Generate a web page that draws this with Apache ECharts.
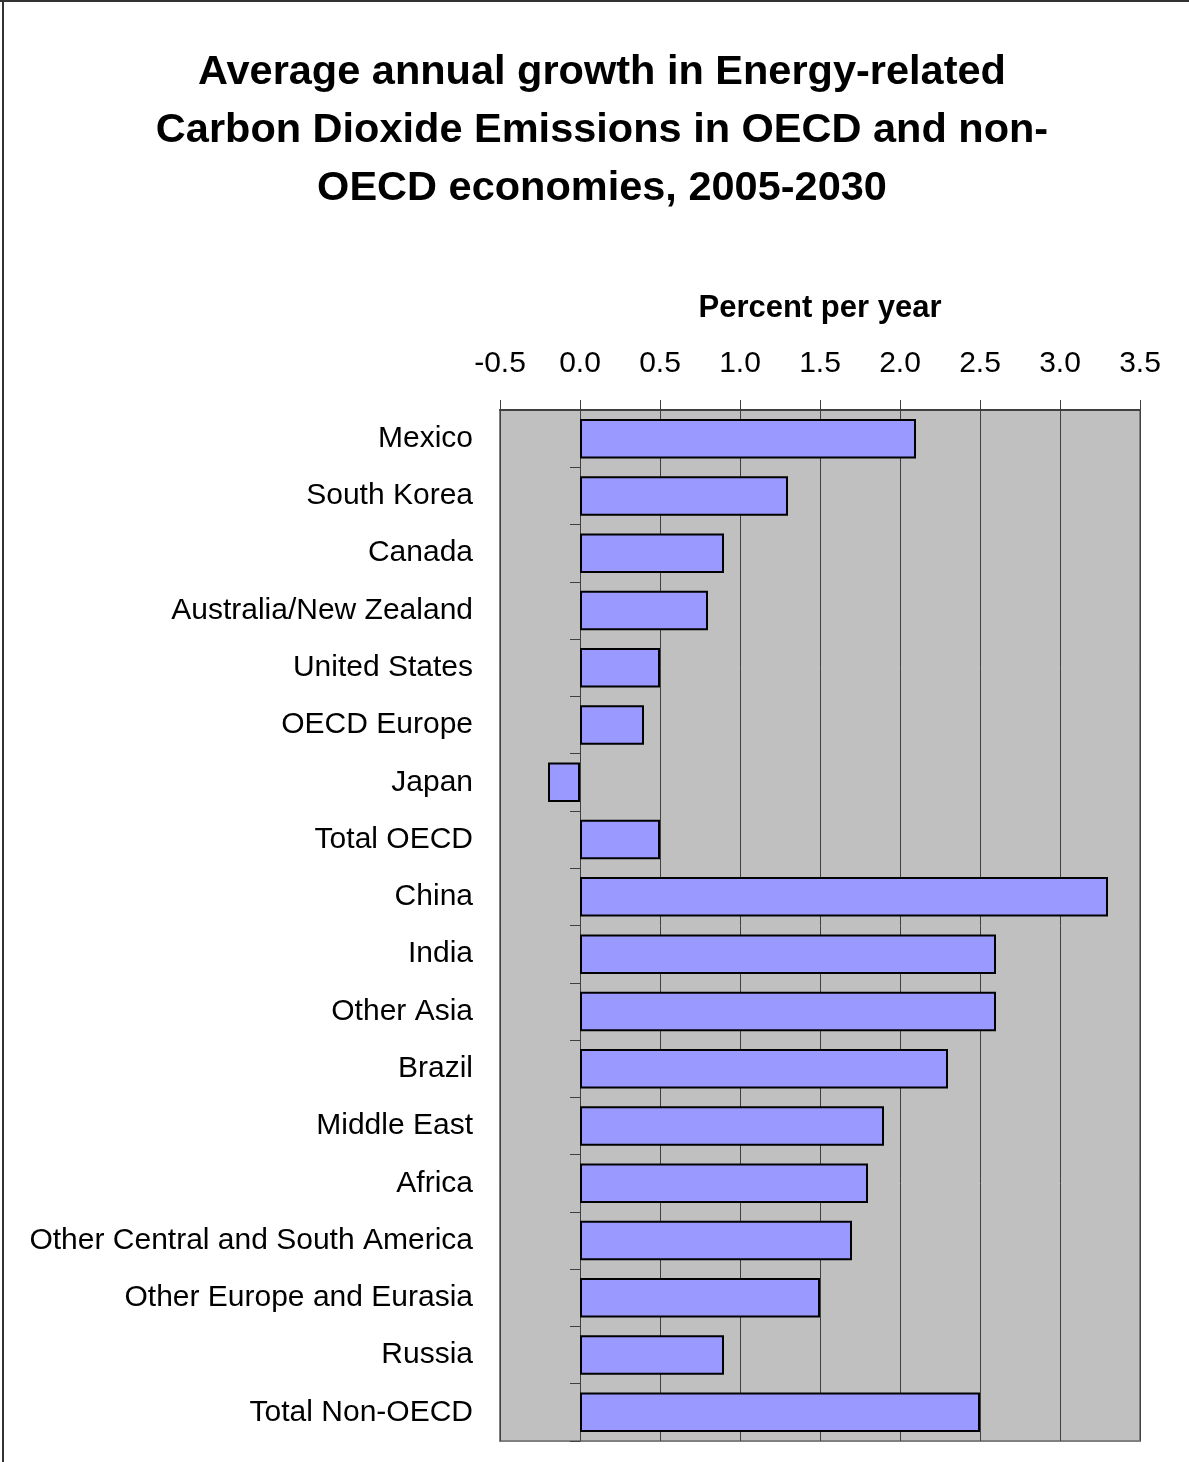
<!DOCTYPE html>
<html>
<head>
<meta charset="utf-8">
<script src="https://cdn.jsdelivr.net/npm/echarts@6/dist/echarts.min.js"></script>
<style>
  html, body { margin: 0; padding: 0; background: #fff; }
  #main { width: 1189px; height: 1462px; }
</style>
</head>
<body>
<div id="main"></div>
<script>
var categories = ['Mexico', 'South Korea', 'Canada', 'Australia/New Zealand', 'United States',
  'OECD Europe', 'Japan', 'Total OECD', 'China', 'India', 'Other Asia', 'Brazil', 'Middle East',
  'Africa', 'Other Central and South America', 'Other Europe and Eurasia', 'Russia', 'Total Non-OECD'];
var growth = [2.1, 1.3, 0.9, 0.8, 0.5, 0.4, -0.2, 0.5, 3.3, 2.6, 2.6, 2.3, 1.9, 1.8, 1.7, 1.5, 0.9, 2.5];

var myChart = echarts.init(document.getElementById('main'));
var font = 'Liberation Sans, Arial, sans-serif';

var option = {
  animation: false,
  textStyle: { fontFamily: font },
  title: {
    text: 'Average annual growth in Energy-related\nCarbon Dioxide Emissions in OECD and non-\nOECD economies, 2005-2030',
    left: 597,
    textAlign: 'center',
    top: 39,
    textStyle: {
      fontFamily: font,
      fontSize: 41.5,
      fontWeight: 'bold',
      lineHeight: 58,
      color: '#000'
    }
  },
  graphic: [
    { type: 'line', shape: { x1: 3, y1: 0, x2: 3, y2: 1462 }, style: { stroke: '#333', lineWidth: 2 } },
    { type: 'line', shape: { x1: 0, y1: 1, x2: 1189, y2: 1 }, style: { stroke: '#333', lineWidth: 2 } }
  ],
  grid: {
    left: 500,
    right: 49,
    top: 410,
    bottom: 21,
    show: true,
    backgroundColor: '#c0c0c0',
    borderColor: '#808080',
    borderWidth: 2
  },
  xAxis: {
    type: 'value',
    position: 'top',
    min: -0.5,
    max: 3.5,
    interval: 0.5,
    name: 'Percent per year',
    nameLocation: 'middle',
    nameGap: 86,
    nameTextStyle: { fontFamily: font, fontSize: 31, fontWeight: 'bold', color: '#000' },
    axisLine: { show: true, lineStyle: { color: '#404040', width: 2 } },
    axisTick: { show: true, inside: false, length: 10, lineStyle: { color: '#404040', width: 1 } },
    axisLabel: {
      fontSize: 30,
      color: '#000',
      margin: 31,
      formatter: function (v) { return v.toFixed(1); }
    },
    splitLine: { show: true, lineStyle: { color: '#404040', width: 1 } }
  },
  yAxis: [
    {
      type: 'category',
      data: categories,
      inverse: true,
      axisLine: { show: false, onZero: false },
      axisTick: { show: false },
      axisLabel: { fontSize: 30, color: '#000', margin: 27, padding: [8, 0, 0, 0] }
    },
    {
      type: 'category',
      data: categories,
      inverse: true,
      position: 'left',
      axisLine: { show: true, onZero: true, lineStyle: { color: '#404040', width: 1 } },
      axisTick: { show: true, length: 10, lineStyle: { color: '#404040' } },
      axisLabel: { show: false }
    }
  ],
  series: [
    {
      type: 'bar',
      data: growth,
      barCategoryGap: '31%',
      itemStyle: { color: '#9999ff', borderColor: '#000', borderWidth: 2 }
    }
  ]
};

myChart.setOption(option);
</script>
</body>
</html>
